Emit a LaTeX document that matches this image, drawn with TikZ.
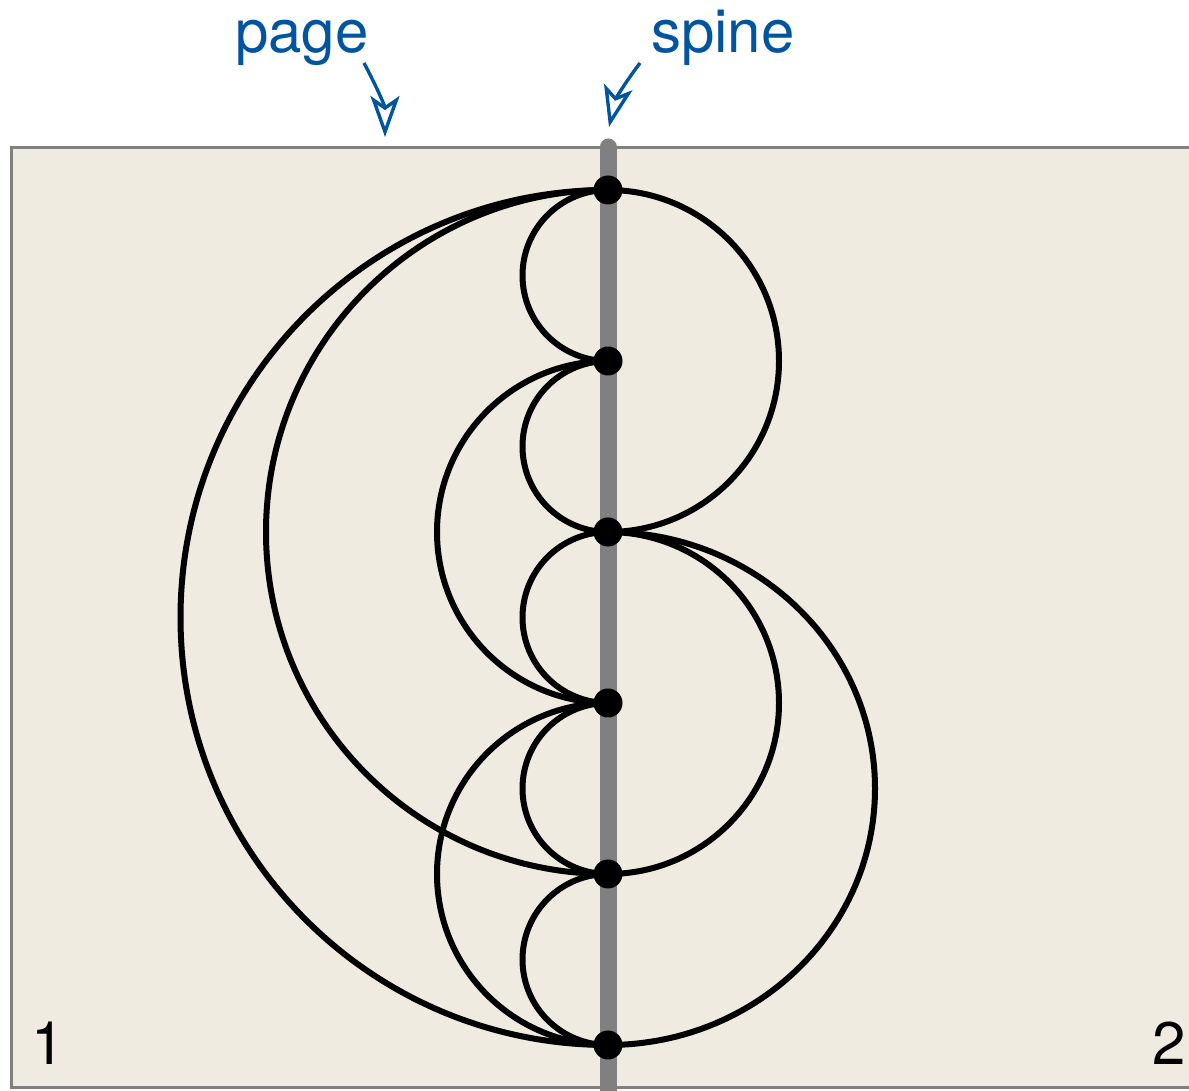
\documentclass[tikz,border=0pt]{standalone}
\usepackage{fontspec}
\setmainfont{TeX Gyre Heros}
\usetikzlibrary{arrows.meta}
\definecolor{pagebg}{RGB}{239,235,224}
\definecolor{pageedge}{RGB}{128,128,128}
\definecolor{spinegray}{RGB}{128,128,128}
\definecolor{labelblue}{RGB}{0,84,160}
\begin{document}
\begin{tikzpicture}[x=1pt,y=1pt,
  arcline/.style={line width=6pt, black},
  vertex/.style={circle, fill=black, minimum size=29pt, inner sep=0pt},
  biglabel/.style={inner sep=0pt, font=\fontsize{60}{64}\selectfont},
  callout/.style={labelblue, line width=3.4pt, -{Stealth[open, length=41pt, width=29pt, inset=10pt]}}
]
\useasboundingbox (0,0) rectangle (1189,1090);
\clip (0,0) rectangle (1189,1090);
% page
\draw[fill=pagebg, draw=pageedge, line width=3pt] (11,3) rectangle (1200,942);
% spine
\draw[spinegray, line width=17pt, line cap=round] (608,943) -- (608,-10);
% vertex positions
\coordinate (v1) at (608,900);
\coordinate (v2) at (608,729);
\coordinate (v3) at (608,558);
\coordinate (v4) at (608,387);
\coordinate (v5) at (608,216);
\coordinate (v6) at (608,45);
% left arcs
\draw[arcline] (v1) arc[start angle=90, end angle=270, radius=85.5];
\draw[arcline] (v2) arc[start angle=90, end angle=270, radius=85.5];
\draw[arcline] (v3) arc[start angle=90, end angle=270, radius=85.5];
\draw[arcline] (v4) arc[start angle=90, end angle=270, radius=85.5];
\draw[arcline] (v5) arc[start angle=90, end angle=270, radius=85.5];
\draw[arcline] (v2) arc[start angle=90, end angle=270, radius=171];
\draw[arcline] (v4) arc[start angle=90, end angle=270, radius=171];
\draw[arcline] (v1) arc[start angle=90, end angle=270, radius=342];
\draw[arcline] (v1) arc[start angle=90, end angle=270, radius=427.5];
% right arcs
\draw[arcline] (v1) arc[start angle=90, end angle=-90, radius=171];
\draw[arcline] (v3) arc[start angle=90, end angle=-90, radius=171];
\draw[arcline] (v3) arc[start angle=90, end angle=-90, x radius=267, y radius=256.5];
% vertices
\foreach \v in {v1,v2,v3,v4,v5,v6} \node[vertex] at (\v) {};
% labels
\node[biglabel, labelblue, anchor=base west] (lpage) at (235,1037) {page};
\node[biglabel, labelblue, anchor=base west] (lspine) at (651,1037) {spine};
\node[biglabel, anchor=base west] (n1) at (31,25) {1};
\node[biglabel, anchor=base east] (n2) at (1186,25) {2};
% callouts
\coordinate (pa) at (364,1027);
\coordinate (pb) at (385,953);
\coordinate (sa) at (640,1027);
\coordinate (sb) at (609,963);
\draw[callout] (pa) to[out=-62, in=90] (pb);
\draw[callout] (sa) to[out=233, in=77] (sb);
\end{tikzpicture}
\end{document}
